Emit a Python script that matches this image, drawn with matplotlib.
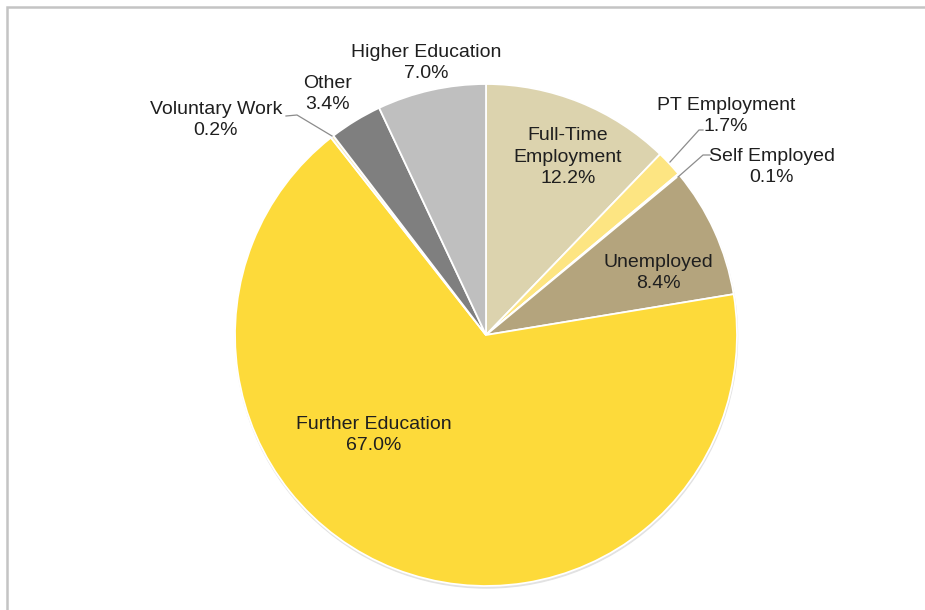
import matplotlib.pyplot as plt
from matplotlib.patches import Rectangle

plt.rcParams["font.family"] = ["Liberation Sans", "DejaVu Sans"]

# destinations, clockwise from 12 o'clock
categories = [
    "Full-Time\nEmployment",
    "PT Employment",
    "Self Employed",
    "Unemployed",
    "Further Education",
    "Voluntary Work",
    "Other",
    "Higher Education",
]
shares = [12.2, 1.7, 0.1, 8.4, 67.0, 0.2, 3.4, 7.0]
colors = ["#DCD3AE", "#FDE582", "#FBEFC0", "#B4A47D", "#FDDA3A",
          "#F7EBB8", "#7F7F7F", "#BFBFBF"]

W, H = 925, 610
fig = plt.figure(figsize=(W / 100, H / 100), dpi=100)
ax = fig.add_axes([0, 0, 1, 1])

cx, cy, r = 486, H - 335, 251

# faint drop shadow under the pie
ax.add_patch(plt.Circle((cx + 0.5, cy - 2), r, color="#E2E2E2", zorder=0))

ax.pie(shares, colors=colors, startangle=90, counterclock=False,
       center=(cx, cy), radius=r,
       wedgeprops=dict(edgecolor="white", linewidth=1.3))

ax.set_xlim(0, W)
ax.set_ylim(0, H)
ax.set_aspect("equal")
ax.axis("off")

# label anchors (pixel space, measured from the top)
label_pos = [
    (568, 157),
    (726, 116),
    (772, 167),
    (658, 273),
    (374, 435),
    (216, 120),
    (328, 94),
    (426, 63),
]
for name, val, (x, y) in zip(categories, shares, label_pos):
    ax.text(x, H - y, f"{name}\n{val:.1f}%", ha="center", va="center",
            fontsize=14, color="#1F1F1F", linespacing=1.36)

# leader lines for the thin slices
leaders = [
    [(703, 130), (699, 130), (670, 162)],
    [(710, 155), (703, 155), (678, 177)],
    [(286, 116), (297, 115), (332, 136)],
]
for pts in leaders:
    xs = [p[0] for p in pts]
    ys = [H - p[1] for p in pts]
    ax.plot(xs, ys, color="#8C8C8C", lw=0.9)

# chart area border
fig.patches.append(Rectangle((7 / W, -0.1), 1.2, (H - 7) / H + 0.1,
                             transform=fig.transFigure, fill=False,
                             edgecolor="#C4C4C4", lw=1.8))

fig.savefig("out.png", dpi=100)
